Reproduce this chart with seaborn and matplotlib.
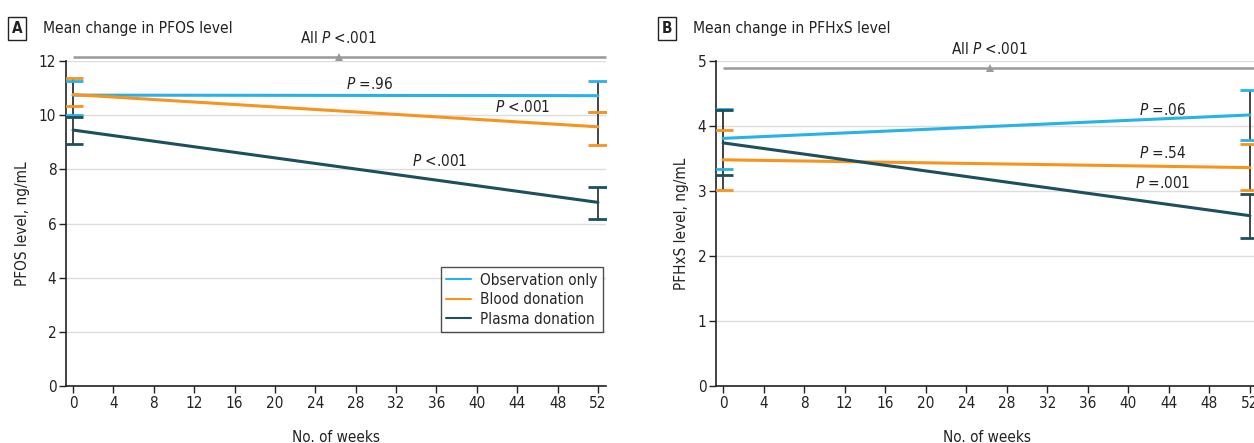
import numpy as np
import pandas as pd
import matplotlib
matplotlib.use('Agg')
import matplotlib.pyplot as plt
import seaborn as sns

# data
weeks = [0, 52]
groups = ['Observation only', 'Blood donation', 'Plasma donation']
colors = ['#29B2E6', '#F7941E', '#1E4F5C']

pfos_mean = {'Observation only': [10.74, 10.72],
             'Blood donation': [10.76, 9.57],
             'Plasma donation': [9.45, 6.78]}
pfos_low = {'Observation only': [10.02, 10.12],
            'Blood donation': [10.34, 8.89],
            'Plasma donation': [8.95, 6.15]}
pfos_high = {'Observation only': [11.27, 11.25],
             'Blood donation': [11.36, 10.12],
             'Plasma donation': [9.95, 7.33]}

pfhxs_mean = {'Observation only': [3.81, 4.17],
              'Blood donation': [3.48, 3.36],
              'Plasma donation': [3.74, 2.62]}
pfhxs_low = {'Observation only': [3.34, 3.78],
             'Blood donation': [3.02, 3.02],
             'Plasma donation': [3.24, 2.28]}
pfhxs_high = {'Observation only': [4.26, 4.55],
              'Blood donation': [3.94, 3.72],
              'Plasma donation': [4.25, 2.95]}

pfos_pvals = [(' =.96', 29.4, 11.15), (' <.001', 44.5, 10.3), (' <.001', 36.3, 8.3)]
pfhxs_pvals = [(' =.06', 43.4, 4.25), (' =.54', 43.4, 3.58), (' =.001', 43.4, 3.12)]
overall_a = 12.14
overall_b = 4.89

sns.set_theme(style='white')
plt.rcParams['font.family'] = ['DejaVu Sans']
plt.rcParams['font.stretch'] = 'condensed'

fig = plt.figure(figsize=(12.54, 4.43), dpi=100)
ax1 = fig.add_axes([66 / 1254, 1 - 386 / 443, 540 / 1254, 325 / 443])
ax2 = fig.add_axes([716 / 1254, 1 - 386 / 443, 542 / 1254, 325 / 443])


def draw_panel(ax, means, lows, highs, ymax, ystep, ylabel, pvals, overall, letter, title):
    rows = []
    for g in groups:
        for w, v in zip(weeks, means[g]):
            rows.append({'week': w, 'level': v, 'group': g})
    df = pd.DataFrame(rows)

    # error bars: dark stem, coloured caps
    for w_i, w in enumerate(weeks):
        for g, c in zip(groups, colors):
            m = means[g][w_i]
            lo = lows[g][w_i]
            hi = highs[g][w_i]
            ax.errorbar([w], [m], yerr=[[m - lo], [hi - m]], fmt='none',
                        ecolor='#444444', elinewidth=1.4, capsize=0, zorder=2)
            ax.plot([w, w], [lo, hi], ls='none', marker='_', ms=15, mew=2,
                    color=c, zorder=3)

    sns.lineplot(data=df, x='week', y='level', hue='group', palette=colors,
                 hue_order=groups, linewidth=2.2, ax=ax, zorder=4, legend=True)

    ax.set_xlim(-0.7, 52.8)
    ax.set_ylim(0, ymax)
    ax.set_xticks(np.arange(0, 53, 4))
    ax.set_yticks(np.arange(0, ymax + 0.01, ystep))
    ax.yaxis.grid(True, color='#DDDDDD', linewidth=1)
    ax.xaxis.grid(False)
    for s in ['top', 'right']:
        ax.spines[s].set_visible(False)
    for s in ['left', 'bottom']:
        ax.spines[s].set_color('#222222')
        ax.spines[s].set_linewidth(1.2)
    ax.tick_params(axis='both', which='both', direction='out', length=5, width=1,
                   color='#222222', labelsize=11, labelcolor='#222222', pad=2)
    ax.tick_params(axis='y', left=True)
    ax.tick_params(axis='x', bottom=True)
    ax.set_xlabel('No. of weeks', fontsize=11, color='#222222', labelpad=14)
    ax.set_ylabel(ylabel, fontsize=11, color='#222222', labelpad=6)

    for rest, x, y in pvals:
        ax.text(x, y, r'$\it{P}$' + rest, ha='center', va='center', fontsize=11,
                color='#222222', zorder=6)

    # overall comparison bracket
    ax.plot([0, 52.8], [overall, overall], color='#999999', lw=1.8,
            clip_on=False, zorder=1, solid_capstyle='butt')
    ax.plot([26.3], [overall], marker='^', ms=6, color='#999999', clip_on=False,
            zorder=1, markeredgewidth=0)
    ax.annotate(r'All $\it{P}$ <.001', xy=(26.3, overall), xytext=(0, 14),
                textcoords='offset points', ha='center', va='center', fontsize=11,
                color='#222222', annotation_clip=False)

    ax.text(-54 / 540, 1.10, letter, transform=ax.transAxes, ha='left', va='center',
            fontsize=11, fontweight='bold', color='#222222',
            bbox=dict(boxstyle='square,pad=0.25', fc='white', ec='#222222', lw=1))
    ax.text(-23 / 540, 1.10, title, transform=ax.transAxes, ha='left', va='center',
            fontsize=11.2, color='#222222')
    return ax


draw_panel(ax1, pfos_mean, pfos_low, pfos_high, 12, 2, 'PFOS level, ng/mL',
           pfos_pvals, overall_a, 'A', 'Mean change in PFOS level')
draw_panel(ax2, pfhxs_mean, pfhxs_low, pfhxs_high, 5, 1, 'PFHxS level, ng/mL',
           pfhxs_pvals, overall_b, 'B', 'Mean change in PFHxS level')

leg = ax1.legend(loc='lower right', bbox_to_anchor=(0.994, 0.166), borderaxespad=0,
                 frameon=True, fancybox=False, edgecolor='#222222', fontsize=11,
                 handlelength=1.6, borderpad=0.35, labelspacing=0.3, handletextpad=0.6)
leg.get_frame().set_linewidth(1)
for h in leg.get_lines():
    h.set_linewidth(1.5)
ax2.get_legend().remove()

fig.savefig('out.png', dpi=100)
